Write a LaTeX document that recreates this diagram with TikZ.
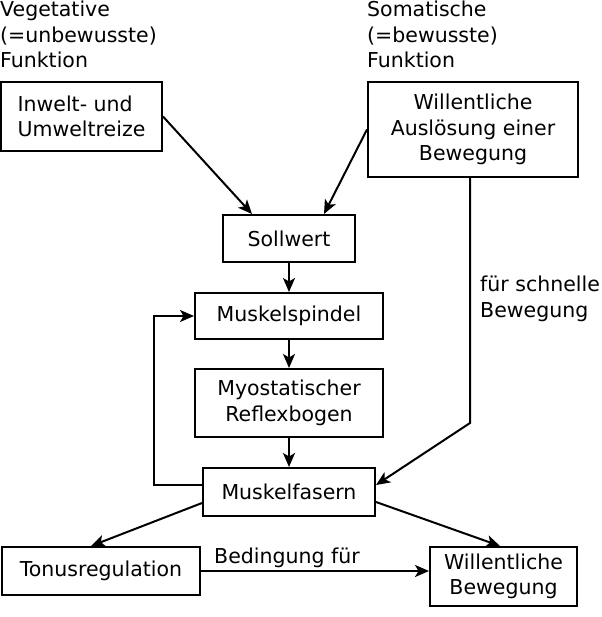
\documentclass[tikz,border=0pt]{standalone}
\usepackage{fontspec}
\setmainfont{DejaVu Sans}
\usepackage{tikz}
\usetikzlibrary{arrows.meta, positioning, calc}
\tikzset{
  block/.style={rectangle, draw=black, line width=2pt, align=center,
    inner sep=0pt, font=\fontsize{20.5}{25.5}\selectfont},
  freetext/.style={anchor=north west, inner sep=0pt, align=left,
    font=\fontsize{20.5}{25.5}\selectfont},
  arrow/.style={-{Stealth[length=14pt, width=12pt, inset=3.5pt]}, line width=2pt}
}

\begin{document}
\begin{tikzpicture}[x=1pt, y=-1pt]
  \useasboundingbox (0,0) rectangle (601,617);
  % Headings
  \node[freetext] (veg) at (0,1) {Vegetative\\(=unbewusste)\\Funktion};
  \node[freetext] (som) at (367,1) {Somatische\\(=bewusste)\\Funktion};

  % Boxes
  \node[block, align=left, minimum width=161pt, minimum height=69pt] (reize) at (81.5,116.5) {Inwelt- und\\Umweltreize};
  \node[block, minimum width=210pt, minimum height=95pt] (wille) at (473,129.5) {Willentliche\\Auslösung einer\\Bewegung};
  \node[block, minimum width=132pt, minimum height=47pt] (soll) at (289,238.5) {Sollwert};
  \node[block, minimum width=188pt, minimum height=46pt] (spindel) at (289,316) {Muskelspindel};
  \node[block, minimum width=188pt, minimum height=68pt] (reflex) at (289,403) {Myostatischer\\Reflexbogen};
  \node[block, minimum width=172pt, minimum height=48pt] (fasern) at (289,492) {Muskelfasern};
  \node[block, minimum width=198pt, minimum height=48pt] (tonus) at (101,571) {Tonusregulation};
  \node[block, minimum width=147pt, minimum height=59pt] (bewegung) at (503.5,576.5) {Willentliche\\Bewegung};

  % Labels
  \node[freetext] (schnell) at (480,276) {für schnelle\\Bewegung};
  \node[freetext] (bedingung) at (214,548) {Bedingung für};
  \coordinate (knick) at (470,423);

  % Paths
  \draw[arrow] (reize.east) -- ([xshift=30pt]soll.north west);
  \draw[arrow] (wille.west) -- ([xshift=-32pt]soll.north east);
  \draw[arrow] (soll) -- (spindel);
  \draw[arrow] (spindel) -- (reflex);
  \draw[arrow] (reflex) -- (fasern);
  \draw[arrow] ([yshift=7pt]fasern.west) -- ++(-48,0) |- (spindel.west);
  \draw[arrow] (wille.south -| knick) -- (knick) -- ([yshift=7pt]fasern.east);
  \draw[arrow] ([yshift=-11pt]fasern.west) -- ([xshift=-10pt]tonus.north);
  \draw[arrow] ([yshift=-10pt]fasern.east) -- ([xshift=-3.5pt]bewegung.north);
  \draw[arrow] (tonus.east) -- (tonus.east -| bewegung.west);
\end{tikzpicture}
\end{document}
